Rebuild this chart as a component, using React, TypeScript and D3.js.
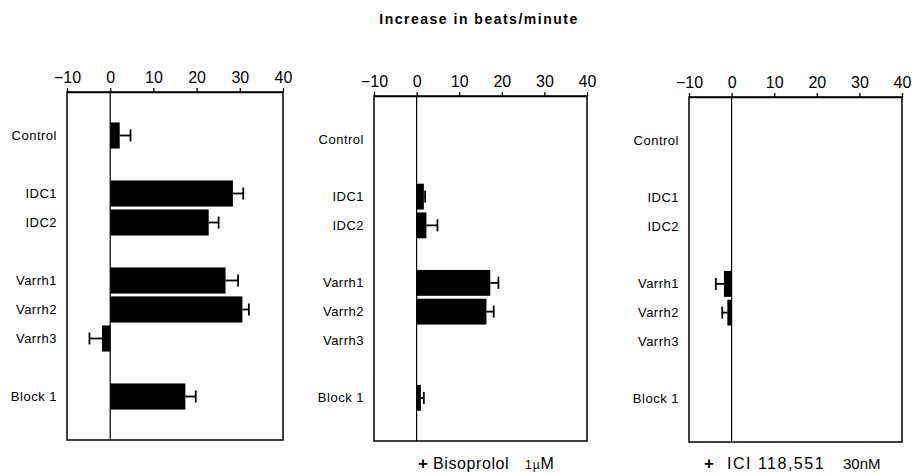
import React, { Component } from "react";
import * as d3 from "d3";

// row slots, blanks are the gaps between groups
const slots = ["Control", "g1", "IDC1", "IDC2", "g2", "Varrh1", "Varrh2", "Varrh3", "g3", "Block 1"];
const categories = ["Control", "IDC1", "IDC2", "Varrh1", "Varrh2", "Varrh3", "Block 1"];
const xTicks = [-10, 0, 10, 20, 30, 40];

// increase in beats/minute, mean and error (null = no bar)
const controlValues = [2.2, 28.4, 22.8, 26.7, 30.6, -1.9, 17.4];
const controlErrors = [2.5, 2.4, 2.3, 2.9, 1.5, 2.9, 2.4];
const bisoprololValues = [null, 1.7, 2.3, 17.3, 16.4, null, 1.0];
const bisoprololErrors = [null, 0.3, 2.6, 1.9, 1.7, null, 0.7];
const iciValues = [null, null, null, -1.8, -1.0, null, null];
const iciErrors = [null, null, null, 1.9, 1.2, null, null];

const FONT = "'Liberation Sans', Arial, Helvetica, sans-serif";

class App extends Component {
  svgRef = React.createRef<SVGSVGElement>();

  componentDidMount() {
    const svg = d3.select(this.svgRef.current);
    svg.selectAll("*").remove();

    const panels = [
      { x0: 67, x1: 283, top: 92, bottom: 440, values: controlValues, errors: controlErrors },
      { x0: 374, x1: 587, top: 96, bottom: 441, values: bisoprololValues, errors: bisoprololErrors },
      { x0: 689, x1: 902, top: 97, bottom: 442, values: iciValues, errors: iciErrors },
    ];

    // title
    svg.append("text")
      .attr("x", 479)
      .attr("y", 24)
      .attr("text-anchor", "middle")
      .attr("font-family", FONT)
      .attr("font-size", 14)
      .attr("font-weight", 600)
      .attr("letter-spacing", 1.5)
      .text("Increase in beats/minute");

    panels.forEach(p => {
      const x = d3.scaleLinear().domain([-10, 40]).range([p.x0, p.x1]);
      const y = d3.scaleBand()
        .domain(slots)
        .range([p.top, p.bottom])
        .paddingInner(0.1)
        .paddingOuter(1.05);

      const g = svg.append("g");

      // frame
      g.append("rect")
        .attr("x", p.x0)
        .attr("y", p.top)
        .attr("width", p.x1 - p.x0)
        .attr("height", p.bottom - p.top)
        .attr("fill", "none")
        .attr("stroke", "#000")
        .attr("stroke-width", 1.5);

      // top axis
      const axis = d3.axisTop(x)
        .tickValues(xTicks)
        .tickSize(4)
        .tickSizeOuter(0)
        .tickPadding(5)
        .tickFormat(d => (+d < 0 ? "\u2212" + Math.abs(+d) : String(d)));

      const ax = g.append("g")
        .attr("transform", `translate(0, ${p.top})`)
        .call(axis);
      ax.select(".domain").attr("stroke", "#000").attr("stroke-width", 1.5);
      ax.selectAll(".tick line").attr("stroke", "#000").attr("stroke-width", 1.3);
      ax.selectAll(".tick text")
        .attr("font-family", FONT)
        .attr("font-size", 16)
        .attr("fill", "#000");

      // zero line
      g.append("line")
        .attr("x1", x(0))
        .attr("x2", x(0))
        .attr("y1", p.top)
        .attr("y2", p.bottom)
        .attr("stroke", "#000")
        .attr("stroke-width", 1.2);

      // row labels
      g.selectAll(".rowlabel")
        .data(categories)
        .join("text")
        .attr("x", p.x0 - 10)
        .attr("y", d => y(d)! + y.bandwidth() / 2)
        .attr("dy", "0.35em")
        .attr("text-anchor", "end")
        .attr("font-family", FONT)
        .attr("font-size", 13)
        .attr("letter-spacing", 0.5)
        .text(d => d);

      const rows = categories
        .map((c, i) => ({ c, v: p.values[i], e: p.errors[i] }))
        .filter(d => d.v !== null);

      // bars
      g.selectAll(".bar")
        .data(rows)
        .join("rect")
        .attr("x", d => Math.min(x(0), x(d.v!)))
        .attr("y", d => y(d.c)!)
        .attr("width", d => Math.abs(x(d.v!) - x(0)))
        .attr("height", y.bandwidth())
        .attr("fill", "#000");

      // error bars
      const err = rows.filter(d => d.e);
      const sign = (v: number) => (v < 0 ? -1 : 1);
      g.selectAll(".errline")
        .data(err)
        .join("line")
        .attr("x1", d => x(d.v!))
        .attr("x2", d => x(d.v! + sign(d.v!) * d.e!))
        .attr("y1", d => y(d.c)! + y.bandwidth() / 2)
        .attr("y2", d => y(d.c)! + y.bandwidth() / 2)
        .attr("stroke", "#000")
        .attr("stroke-width", 1.8);
      g.selectAll(".errcap")
        .data(err)
        .join("line")
        .attr("x1", d => x(d.v! + sign(d.v!) * d.e!))
        .attr("x2", d => x(d.v! + sign(d.v!) * d.e!))
        .attr("y1", d => y(d.c)! + y.bandwidth() / 2 - 6)
        .attr("y2", d => y(d.c)! + y.bandwidth() / 2 + 6)
        .attr("stroke", "#000")
        .attr("stroke-width", 1.8);
    });

    // treatment labels under panels 2 and 3
    const t2 = svg.append("text")
      .attr("x", 418)
      .attr("y", 469)
      .attr("font-family", FONT)
      .attr("font-size", 16);
    t2.append("tspan").attr("font-weight", 700).attr("font-size", 17).text("+");
    t2.append("tspan").attr("letter-spacing", 0.6).text(" Bisoprolol");
    t2.append("tspan").attr("x", 525).attr("font-size", 12).text("1");
    t2.append("tspan").attr("font-size", 12).attr("dx", 1).text("\u00b5");
    t2.append("tspan").attr("font-size", 16).attr("dx", 1).text("M");

    const t3 = svg.append("text")
      .attr("x", 704)
      .attr("y", 469)
      .attr("font-family", FONT)
      .attr("font-size", 16);
    t3.append("tspan").attr("font-weight", 700).attr("font-size", 17).text("+");
    t3.append("tspan").attr("x", 727).attr("letter-spacing", 1.5).text("ICI 118,551");
    t3.append("tspan").attr("x", 843).attr("font-size", 15).text("30nM");
  }

  render() {
    return (
      <svg
        ref={this.svgRef}
        width={916}
        height={474}
        style={{ position: "absolute", left: 0, top: 0, background: "#fff" }}
      ></svg>
    );
  }
}

export default App;
